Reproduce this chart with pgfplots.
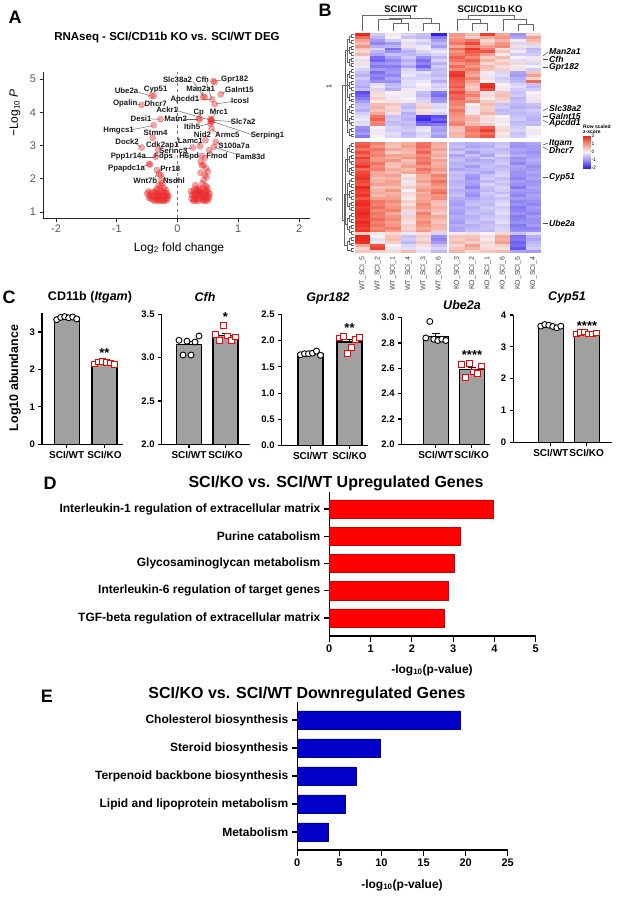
\documentclass[border=0pt]{standalone}
\usepackage{fontspec}
\setmainfont{Liberation Sans}
\usepackage{pgfplots}
\usepackage{pgfplotstable}
\pgfplotsset{compat=1.18}
\pgfplotsset{/pgf/number format/assume math mode=true}
\newcommand\fs[1]{\fontsize{#1}{#1}\selectfont}
\definecolor{volred}{RGB}{235,40,40}
\definecolor{bargray}{RGB}{160,160,160}
\definecolor{upred}{RGB}{255,0,0}
\definecolor{downblue}{RGB}{0,0,200}
\pgfplotsset{colormap={zscore}{rgb255=(50,30,240) rgb255=(155,145,245) rgb255=(245,242,248) rgb255=(245,150,130) rgb255=(235,40,30)}}
\pgfdeclareplotmark{hcell}{\pgfpathrectangle{\pgfqpoint{-7.7pt}{-1.55pt}}{\pgfqpoint{15.4pt}{3.1pt}}\pgfusepathqfill}

\tikzset{
  gl/.style={font=\bfseries\fs{7.8}, text=black!90, inner sep=0.5pt},
  ll/.style={black!60, line width=0.5pt},
  panel/.style={font=\bfseries\fs{18}},
  star/.style={font=\bfseries\fs{13}, inner sep=0pt},
}
\pgfplotsset{
  abund/.style={scale only axis, anchor=south west, xmin=0, axis lines=left,
    axis line style={-, line width=1.2pt}, tick align=outside, major tick length=3.5pt,
    tick style={line width=1.1pt, black}, yticklabel style={font=\bfseries\fs{9.5}},
    xticklabel style={font=\bfseries\fs{10}}, xticklabels={SCI/WT,SCI/KO}},
  abar/.style={ybar, bar width=25pt, fill=bargray, draw=black, line width=1.2pt,
    error bars/.cd, y dir=plus, y explicit,
    error bar style={line width=1pt, black}, error mark options={rotate=90, mark size=4pt, line width=1pt, black}},
  wt/.style={only marks, mark=*, mark size=3pt, mark options={fill=white, draw=black, line width=0.9pt}},
  ko/.style={only marks, mark=square*, mark size=2.8pt, mark options={fill=white, draw=red, line width=1pt}},
  pathway/.style={scale only axis, anchor=south west, axis lines=left,
    axis line style={-, line width=1.2pt}, tick align=outside, major tick length=5.5pt,
    tick style={line width=1.2pt, black}, yticklabel style={font=\bfseries\fs{12}},
    xticklabel style={font=\bfseries\fs{11}}, ytick={1,...,5}},
  hm/.style={scatter, only marks, mark=hcell, point meta=explicit,
    scatter/use mapped color={draw=mapped color, fill=mapped color}},
  dendro/.style={black!60, line width=0.45pt, no marks, unbounded coords=jump},
}

% Row-scaled z-scores; columns in clustered sample order
\pgfplotstableread{
y w5 w2 w1 w4 w3 w6 k3 k2 k1 k6 k5 k4
-1 2.0 -0.4 0.1 -0.3 -0.5 -2.0 1.0 0.6 1.8 0.8 -1.0 0.3
-2 1.4 -0.6 0.0 -0.5 -0.6 -1.2 0.9 0.4 0.8 1.0 -0.8 0.9
-3 0.9 -0.9 -0.4 0.1 -0.2 -0.9 1.1 1.3 0.3 0.7 0.1 0.6
-4 0.6 -1.1 -0.9 -0.2 -0.4 -0.6 1.3 1.7 0.5 1.0 -0.3 0.4
-5 1.0 -0.7 -0.6 0.2 -0.1 -0.9 0.8 1.2 0.9 1.1 0.2 -0.2
-6 0.5 -0.3 -1.3 -0.4 0.1 -0.4 1.4 1.9 1.2 0.2 -0.3 -0.6
-7 0.3 -0.6 -1.0 -0.7 -0.3 -0.1 1.0 1.6 1.6 0.5 0.1 -0.5
-8 0.6 -0.8 -0.5 -0.6 -0.5 -0.3 1.2 1.4 0.9 0.1 -0.4 -0.4
-9 0.1 -1.3 -0.8 -0.4 -1.0 -0.6 1.5 1.1 0.4 0.6 0.0 -0.1
-10 -0.2 -1.4 -1.1 -0.7 -1.3 -0.3 1.3 1.5 0.7 0.3 -0.2 0.2
-11 0.2 -1.0 -0.9 -0.5 -1.1 -0.7 1.0 1.2 0.3 0.5 0.3 -0.3
-12 -0.1 -1.2 -1.2 -0.8 -1.4 -0.4 1.4 1.0 0.6 0.2 -0.1 0.0
-13 -0.3 -0.9 -1.0 -0.3 -0.9 -0.6 1.1 1.3 0.5 0.4 0.2 -0.4
-14 -0.5 -1.3 -0.9 -0.2 -0.2 -0.5 1.8 1.0 0.1 -0.3 -0.8 0.5
-15 -0.7 -1.1 -1.1 -0.1 -0.4 -0.6 1.9 0.8 -0.1 -0.2 -0.9 0.9
-16 -0.4 -1.2 -0.8 -0.3 -0.3 -0.4 1.6 1.2 0.2 -0.4 -0.7 0.3
-17 -0.6 -1.0 -1.0 -0.2 -0.1 -0.7 1.5 0.9 0.0 -0.3 -0.6 1.4
-18 -0.6 -0.2 -0.6 -0.2 0.0 -0.3 1.4 0.6 1.9 0.0 -0.3 -0.5
-19 -0.8 -0.1 -0.5 -0.3 0.1 -0.4 1.6 0.4 2.0 0.1 -0.2 -0.6
-20 -0.5 -0.3 -0.7 -0.1 -0.1 -0.2 1.3 0.5 1.7 -0.1 -0.4 -0.4
-21 -1.6 0.3 0.0 0.1 -0.5 -1.2 1.7 1.0 0.2 0.5 -0.5 0.0
-22 -1.4 0.2 0.1 -0.1 -0.6 -1.3 1.4 1.2 0.3 0.6 -0.4 0.1
-23 -1.2 0.4 -0.1 0.0 -0.4 -1.0 1.5 0.8 0.1 0.4 -0.6 -0.1
-24 -0.9 0.1 0.2 0.1 -0.3 -0.9 1.2 1.1 0.4 0.3 -0.5 0.2
-25 -0.6 0.6 0.5 -0.5 0.3 -0.2 1.2 0.0 0.6 -0.5 -0.6 -0.5
-26 -0.5 0.7 0.3 -0.6 0.4 -0.3 1.0 0.2 0.4 -0.4 -0.7 -0.6
-27 -0.7 0.5 0.4 -0.4 0.2 -0.1 1.3 -0.1 0.5 -0.6 -0.5 -0.4
-28 -0.4 0.8 0.2 -0.7 0.3 -0.3 1.1 0.1 0.7 -0.5 -0.6 -0.5
-29 -0.2 1.3 -0.5 -0.6 -1.8 -1.6 1.0 0.6 0.2 0.0 -0.5 -0.6
-30 -0.1 1.5 -0.4 -0.7 -1.9 -1.4 0.9 0.7 0.3 0.1 -0.4 -0.7
-31 -0.3 1.1 -0.6 -0.5 -1.5 -1.7 1.1 0.5 0.1 -0.1 -0.6 -0.5
-32 -0.2 1.2 -0.5 -0.6 -1.3 -1.2 1.2 0.6 0.4 0.0 -0.5 -0.6
-33 -1.0 0.0 -0.3 -0.5 -0.2 -0.8 0.6 1.2 1.5 0.2 -0.4 0.0
-34 -1.1 0.1 -0.4 -0.4 -0.1 -0.9 0.5 1.3 1.8 0.3 -0.3 0.1
-35 -0.9 -0.1 -0.2 -0.6 -0.3 -0.7 0.7 1.1 1.4 0.1 -0.5 -0.1
-36 -1.2 0.0 -0.3 -0.5 -0.2 -0.9 0.6 1.2 1.6 0.2 -0.4 0.0
-38.3 1.5 1.2 0.6 0.8 1.3 0.8 -0.6 -0.7 -0.6 -0.5 -0.9 -0.8
-39.3 1.6 1.0 0.5 0.9 1.4 0.7 -0.5 -0.8 -0.7 -0.4 -1.0 -0.9
-40.3 1.3 1.3 0.8 0.7 1.2 0.9 -0.7 -0.6 -0.5 -0.6 -0.8 -0.9
-41.3 1.7 1.1 0.4 0.6 1.5 0.6 -0.4 -0.9 -0.6 -0.5 -0.9 -1.0
-42.3 1.4 1.2 0.9 0.8 1.1 0.8 -0.8 -0.5 -0.8 -0.3 -0.7 -0.9
-43.3 1.8 0.9 0.7 1.0 1.3 0.5 -0.6 -0.7 -0.4 -0.6 -1.0 -0.8
-44.3 1.5 1.0 1.0 0.5 1.2 0.9 -0.5 -0.8 -0.7 -0.5 -0.9 -0.7
-45.3 1.6 1.3 0.6 0.7 1.4 0.7 -0.7 -0.6 -0.6 -0.4 -1.1 -0.8
-46.3 1.9 1.1 0.5 0.9 1.0 0.8 -0.6 -0.9 -0.5 -0.6 -0.8 -1.0
-47.3 1.4 1.2 0.8 0.6 1.3 1.0 -0.8 -0.7 -0.6 -0.5 -0.9 -0.9
-48.3 1.7 0.8 0.6 0.8 1.1 0.7 -0.5 -0.6 -0.8 -0.4 -1.0 -0.8
-49.3 1.8 0.8 0.9 0.1 0.8 1.2 -0.6 -0.9 -0.5 -0.3 -1.0 -0.9
-50.3 1.9 0.6 0.7 0.3 0.7 1.0 -0.5 -1.0 -0.4 -0.5 -1.1 -0.8
-51.3 1.7 0.7 0.9 -0.1 0.9 1.3 -0.7 -0.8 -0.6 -0.4 -0.9 -1.0
-52.3 1.6 0.9 0.8 0.2 0.6 1.1 -0.6 -0.9 -0.3 -0.5 -1.0 -0.9
-53.3 2.0 0.5 0.6 0.4 0.8 0.9 -0.5 -1.1 -0.5 -0.3 -1.2 -0.8
-54.3 1.8 0.7 1.0 0.0 1.0 1.2 -0.7 -0.8 -0.6 -0.4 -0.9 -0.9
-55.3 1.7 0.8 0.7 0.3 0.7 1.4 -0.6 -0.9 -0.4 -0.6 -1.0 -1.0
-56.3 1.9 0.6 0.8 0.2 0.9 1.0 -0.5 -1.0 -0.5 -0.3 -1.1 -0.8
-57.3 1.6 0.9 0.9 0.1 0.8 1.1 -0.7 -0.8 -0.6 -0.5 -0.9 -0.9
-58.3 1.9 1.3 1.1 0.4 0.9 0.6 -0.8 -0.6 -0.5 -0.3 -1.1 -1.0
-59.3 2.0 1.2 0.9 0.2 1.1 0.5 -0.9 -0.5 -0.6 -0.2 -1.0 -1.1
-60.3 1.8 1.4 1.0 0.5 1.0 0.7 -0.7 -0.7 -0.4 -0.4 -1.2 -0.9
-61.3 1.9 1.1 1.2 0.3 0.8 0.6 -0.8 -0.6 -0.5 -0.3 -1.1 -1.0
-62.3 2.0 1.3 0.8 -0.2 1.2 0.4 -0.9 -0.5 -0.6 -0.2 -1.0 -1.1
-63.3 1.9 1.2 1.0 0.4 1.0 0.8 -0.7 -0.7 -0.5 -0.4 -1.2 -0.9
-64.3 1.8 1.4 1.1 0.3 0.9 0.6 -0.8 -0.6 -0.4 -0.3 -1.1 -1.0
-65.3 2.0 1.2 0.9 0.2 1.1 0.5 -0.9 -0.5 -0.6 -0.2 -1.0 -1.0
-66.3 1.9 1.3 1.0 0.4 1.0 0.7 -0.7 -0.7 -0.5 -0.4 -1.2 -0.9
-67.3 1.8 1.1 1.2 0.3 0.8 0.6 -0.8 -0.6 -0.5 -0.3 -1.1 -1.1
-68.3 1.9 1.3 0.9 0.5 1.0 0.4 -0.8 -0.5 -0.6 -0.3 -1.0 -1.0
-69.3 0.4 0.1 0.3 -0.1 0.2 -0.3 0.1 0.2 0.0 0.3 -0.5 -0.2
-70.3 2.0 0.0 0.5 -0.5 0.4 -1.0 0.5 0.5 0.2 0.8 -1.3 -0.7
-71.3 2.0 -0.2 0.6 -0.4 0.3 -1.1 0.4 0.6 0.1 0.7 -1.2 -0.8
-72.3 1.9 0.1 0.4 -0.6 0.5 -0.9 0.6 0.4 0.3 0.9 -1.4 -0.6
-73.3 0.8 1.6 0.0 -0.3 0.2 -0.5 0.3 0.9 0.2 0.4 -1.3 -0.5
-74.3 0.3 1.8 -0.1 -0.2 0.1 -0.3 0.5 0.7 0.3 0.2 -1.5 -0.4
-75.3 0.5 0.4 0.3 0.6 -0.2 -0.6 0.7 0.3 0.5 0.6 -0.8 -0.9
}\heatdata

\begin{document}
\begin{tikzpicture}[x=1pt,y=1pt]
\path[use as bounding box] (0,0) rectangle (623,-899);

% ---------------- panel letters and titles ----------------
\node[panel] at (15,-17) {A};
\node[panel] at (325,-10) {B};
\node[panel] at (9,-297) {C};
\node[panel] at (50,-483) {D};
\node[panel] at (47,-696) {E};
\node[font=\bfseries\fs{11.5}] at (167,-38) {RNAseq - SCI/CD11b KO vs. SCI/WT DEG};

% ---------------- A: volcano plot ----------------
\begin{axis}[at={(43pt,-218pt)}, anchor=south west, scale only axis, width=267pt, height=146.3pt,
  xmin=-2.214, xmax=2.18, ymin=0.82, ymax=5.22, axis lines=left,
  axis line style={-, line width=0.8pt, black!85}, tick align=outside, major tick length=3.5pt,
  tick style={black!85, line width=0.8pt}, xtick={-2,-1,0,1,2}, xticklabels={-2,-1,0,1,2},
  ytick={1,2,3,4,5}, ticklabel style={font=\fs{11}, text=black!65}, clip=false]
\addplot[black!55, dashed, line width=0.6pt] coordinates {(0,0.82) (0,5.22)};
\addplot[only marks, mark=*, mark size=3.1pt,
  mark options={fill=volred, fill opacity=0.42, draw=volred, draw opacity=0.5, line width=0.3pt}]
coordinates {
(0.59,4.94)(0.61,4.90)(0.71,4.54)(0.42,4.47)(0.45,4.45)(0.57,4.39)(0.61,4.24)
(0.36,3.82)(0.36,3.78)(0.54,3.80)(0.55,3.75)(0.56,3.71)(0.54,3.66)(0.56,3.77)(0.56,3.51)
(0.46,3.16)(0.37,2.98)(0.25,2.94)(0.63,3.11)(0.60,2.96)(0.52,2.86)(0.40,2.69)
(0.38,2.51)(0.43,2.41)(0.47,2.31)(0.38,2.18)(0.45,2.11)(0.43,1.96)(0.41,1.86)(0.29,1.81)
(0.46,1.79)(0.35,1.73)(0.49,1.66)(0.50,2.22)(0.48,2.05)(0.40,2.40)(0.45,2.62)
(-0.43,4.49)(-0.39,4.49)(-0.59,4.22)(-0.28,3.79)(-0.39,3.61)(-0.41,3.23)(-0.59,2.94)
(-0.32,2.88)(-0.36,2.66)(-0.47,2.44)(-0.45,2.43)(-0.34,2.26)(-0.28,2.11)(-0.30,2.14)
(-0.27,1.95)(-0.25,1.86)(-0.31,1.80)
(-0.48,1.62)(-0.44,1.58)(-0.40,1.60)(-0.36,1.63)(-0.32,1.57)(-0.28,1.60)(-0.24,1.62)(-0.20,1.58)(-0.17,1.55)
(-0.46,1.50)(-0.42,1.47)(-0.38,1.52)(-0.34,1.49)(-0.30,1.51)(-0.26,1.47)(-0.22,1.50)(-0.18,1.46)(-0.15,1.49)
(-0.44,1.40)(-0.40,1.38)(-0.36,1.42)(-0.32,1.39)(-0.28,1.41)(-0.24,1.37)(-0.20,1.40)(-0.16,1.42)
(-0.38,1.33)(-0.34,1.35)(-0.30,1.33)(-0.26,1.34)(-0.22,1.33)(-0.18,1.35)
(-0.34,1.70)(-0.29,1.68)(-0.22,1.72)(-0.27,1.78)(-0.31,1.45)(-0.35,1.56)(-0.25,1.53)(-0.19,1.66)(-0.50,1.55)(-0.47,1.43)
(0.22,1.62)(0.26,1.58)(0.30,1.60)(0.34,1.63)(0.38,1.57)(0.42,1.60)(0.46,1.62)(0.50,1.58)(0.53,1.55)
(0.24,1.50)(0.28,1.47)(0.32,1.52)(0.36,1.49)(0.40,1.51)(0.44,1.47)(0.48,1.50)(0.52,1.46)
(0.23,1.40)(0.27,1.38)(0.31,1.42)(0.35,1.39)(0.39,1.41)(0.43,1.37)(0.47,1.40)(0.51,1.42)
(0.26,1.33)(0.30,1.35)(0.34,1.33)(0.42,1.34)(0.46,1.33)(0.50,1.35)
(0.30,1.70)(0.38,1.68)(0.44,1.72)(0.49,1.74)(0.34,1.66)(0.41,1.45)(0.37,1.55)(0.29,1.53)(0.45,1.56)(0.27,1.66)
};
% leader lines
\draw[ll] (axis cs:0.25,4.94) -- (axis cs:0.42,4.49);
\draw[ll] (axis cs:0.47,4.93) -- (axis cs:0.56,4.41);
\draw[ll] (axis cs:0.72,4.96) -- (axis cs:0.61,4.94);
\draw[ll] (axis cs:0.40,4.64) -- (axis cs:0.42,4.50);
\draw[ll] (axis cs:0.80,4.64) -- (axis cs:0.72,4.55);
\draw[ll] (axis cs:0.88,4.32) -- (axis cs:0.63,4.25);
\draw[ll] (axis cs:0.33,4.37) -- (axis cs:0.55,4.39);
\draw[ll] (axis cs:-0.64,4.60) -- (axis cs:-0.45,4.50);
\draw[ll] (axis cs:-0.68,4.25) -- (axis cs:-0.61,4.23);
\draw[ll] (axis cs:-0.03,4.06) -- (axis cs:0.55,3.76);
\draw[ll] (axis cs:1.22,3.33) -- (axis cs:0.57,3.72);
\draw[ll] (axis cs:0.62,3.94) -- (axis cs:0.56,3.82);
\draw[ll] (axis cs:-0.44,3.80) -- (axis cs:-0.30,3.79);
\draw[ll] (axis cs:0.12,3.80) -- (axis cs:0.34,3.80);
\draw[ll] (axis cs:0.90,3.72) -- (axis cs:0.58,3.76);
\draw[ll] (axis cs:0.35,3.58) -- (axis cs:0.53,3.66);
\draw[ll] (axis cs:-0.76,3.47) -- (axis cs:-0.41,3.60);
\draw[ll] (axis cs:0.69,3.33) -- (axis cs:0.57,3.49);
\draw[ll] (axis cs:-0.68,3.05) -- (axis cs:-0.60,2.96);
\draw[ll] (axis cs:0.33,3.11) -- (axis cs:0.37,3.00);
\draw[ll] (axis cs:0.75,3.02) -- (axis cs:0.64,3.10);
\draw[ll] (axis cs:0.08,2.87) -- (axis cs:0.24,2.93);
\draw[ll] (axis cs:-0.57,2.66) -- (axis cs:-0.38,2.66);
\draw[ll] (axis cs:0.32,2.67) -- (axis cs:0.39,2.69);
\draw[ll] (axis cs:0.58,2.74) -- (axis cs:0.53,2.85);
\draw[ll] (axis cs:1.03,2.70) -- (axis cs:0.61,2.95);
\draw[ll] (axis cs:-0.60,2.34) -- (axis cs:-0.48,2.43);
\draw[ll] (axis cs:-0.24,2.29) -- (axis cs:-0.32,2.26);
\draw[ll] (axis cs:-0.38,1.98) -- (axis cs:-0.33,2.24);
\draw[ll] (axis cs:-0.15,1.98) -- (axis cs:-0.27,2.10);
% gene names
\node[gl] at (axis cs:0.0,4.98) {Slc38a2};
\node[gl] at (axis cs:0.41,4.98) {Cfh};
\node[gl] at (axis cs:0.94,4.98) {Gpr182};
\node[gl] at (axis cs:-0.84,4.64) {Ube2a};
\node[gl] at (axis cs:-0.36,4.67) {Cyp51};
\node[gl] at (axis cs:0.38,4.70) {Man2a1};
\node[gl] at (axis cs:1.02,4.69) {Galnt15};
\node[gl] at (axis cs:-0.86,4.27) {Opalin};
\node[gl] at (axis cs:-0.36,4.27) {Dhcr7};
\node[gl] at (axis cs:0.12,4.37) {Apcdd1};
\node[gl] at (axis cs:1.03,4.34) {Icosl};
\node[gl] at (axis cs:-0.17,4.09) {Ackr1};
\node[gl] at (axis cs:0.35,4.00) {Cp};
\node[gl] at (axis cs:0.68,4.00) {Mrc1};
\node[gl] at (axis cs:-0.60,3.80) {Desi1};
\node[gl] at (axis cs:-0.03,3.80) {Matn2};
\node[gl] at (axis cs:1.08,3.71) {Slc7a2};
\node[gl] at (axis cs:0.24,3.56) {Itih5};
\node[gl] at (axis cs:-0.97,3.44) {Hmgcs1};
\node[gl] at (axis cs:-0.36,3.38) {Stmn4};
\node[gl] at (axis cs:0.41,3.31) {Nid2};
\node[gl] at (axis cs:0.82,3.31) {Armc5};
\node[gl] at (axis cs:1.48,3.31) {Serping1};
\node[gl] at (axis cs:-0.83,3.10) {Dock2};
\node[gl] at (axis cs:-0.25,3.01) {Cdk2ap1};
\node[gl] at (axis cs:0.21,3.14) {Lamc1};
\node[gl] at (axis cs:0.93,2.99) {S100a7a};
\node[gl] at (axis cs:-0.07,2.84) {Serinc3};
\node[gl] at (axis cs:-0.81,2.66) {Ppp1r14a};
\node[gl] at (axis cs:-0.23,2.66) {Fdps};
\node[gl] at (axis cs:0.19,2.66) {H6pd};
\node[gl] at (axis cs:0.65,2.69) {Fmod};
\node[gl] at (axis cs:1.20,2.66) {Fam83d};
\node[gl] at (axis cs:-0.84,2.31) {Ppapdc1a};
\node[gl] at (axis cs:-0.12,2.31) {Prr18};
\node[gl] at (axis cs:-0.53,1.93) {Wnt7b};
\node[gl] at (axis cs:-0.06,1.93) {Nsdhl};
\end{axis}
\node[font=\fs{12}, rotate=90] at (15,-113) {−Log\textsubscript{10} \textit{P}};
\node[font=\fs{12}] at (179,-248) {Log\textsubscript{2} fold change};

% ---------------- B: heatmap ----------------
\node[font=\bfseries\fs{9.5}] at (401,-9) {SCI/WT};
\node[font=\bfseries\fs{9.5}] at (490,-9) {SCI/CD11b KO};
\begin{axis}[at={(355pt,-253pt)}, anchor=south west, scale only axis, width=186pt, height=220pt,
  xmin=0.5, xmax=12.7, ymin=-75.8, ymax=-0.5, axis line style={draw=none},
  colormap name=zscore, point meta min=-2, point meta max=2,
  ytick=\empty, xtick={1,2,3,4,5,6,7.2,8.2,9.2,10.2,11.2,12.2},
  xticklabels={WT\_SCI\_5,WT\_SCI\_2,WT\_SCI\_1,WT\_SCI\_4,WT\_SCI\_3,WT\_SCI\_6,
    KO\_SCI\_3,KO\_SCI\_2,KO\_SCI\_1,KO\_SCI\_6,KO\_SCI\_5,KO\_SCI\_4},
  xticklabel style={rotate=90, anchor=east, font=\fs{7}, text=black!75},
  major tick length=0pt, clip=false]
\addplot[hm] table[x expr=1, y=y, meta=w5] {\heatdata};
\addplot[hm] table[x expr=2, y=y, meta=w2] {\heatdata};
\addplot[hm] table[x expr=3, y=y, meta=w1] {\heatdata};
\addplot[hm] table[x expr=4, y=y, meta=w4] {\heatdata};
\addplot[hm] table[x expr=5, y=y, meta=w3] {\heatdata};
\addplot[hm] table[x expr=6, y=y, meta=w6] {\heatdata};
\addplot[hm] table[x expr=7.2, y=y, meta=k3] {\heatdata};
\addplot[hm] table[x expr=8.2, y=y, meta=k2] {\heatdata};
\addplot[hm] table[x expr=9.2, y=y, meta=k1] {\heatdata};
\addplot[hm] table[x expr=10.2, y=y, meta=k6] {\heatdata};
\addplot[hm] table[x expr=11.2, y=y, meta=k5] {\heatdata};
\addplot[hm] table[x expr=12.2, y=y, meta=k4] {\heatdata};
% sample dendrogram
\addplot[dendro] coordinates {
(3,0.3)(3,2.8)(4,2.8)(4,0.3) (nan,nan)
(5,0.3)(5,3.0)(6,3.0)(6,0.3) (nan,nan)
(2,0.3)(2,4.2)(3.5,4.2)(3.5,2.8) (nan,nan)
(2.75,4.2)(2.75,4.5)(5.5,4.5)(5.5,3.0) (nan,nan)
(1,0.3)(1,5.66)(4.125,5.66)(4.125,4.5) (nan,nan)
(8.2,0.3)(8.2,2.8)(9.2,2.8)(9.2,0.3) (nan,nan)
(7.2,0.3)(7.2,4.2)(8.7,4.2)(8.7,2.8) (nan,nan)
(11.2,0.3)(11.2,2.6)(12.2,2.6)(12.2,0.3) (nan,nan)
(10.2,0.3)(10.2,4.2)(11.7,4.2)(11.7,2.6) (nan,nan)
(7.95,4.2)(7.95,5.66)(10.95,5.66)(10.95,4.2)
};
% gene dendrogram, cluster 1 leaves
\addplot[dendro] coordinates {
(0.42,-1)(0.28,-1)(0.28,-2)(0.42,-2) (nan,nan)
(0.42,-3)(0.28,-3)(0.28,-4)(0.42,-4) (nan,nan)
(0.42,-5)(0.28,-5)(0.28,-6)(0.42,-6) (nan,nan)
(0.42,-7)(0.28,-7)(0.28,-8)(0.42,-8) (nan,nan)
(0.42,-9)(0.28,-9)(0.28,-10)(0.42,-10) (nan,nan)
(0.42,-11)(0.28,-11)(0.28,-12)(0.42,-12) (nan,nan)
(0.42,-13)(0.28,-13)(0.28,-14)(0.42,-14) (nan,nan)
(0.42,-15)(0.28,-15)(0.28,-16)(0.42,-16) (nan,nan)
(0.42,-17)(0.28,-17)(0.28,-18)(0.42,-18) (nan,nan)
(0.42,-19)(0.28,-19)(0.28,-20)(0.42,-20) (nan,nan)
(0.42,-21)(0.28,-21)(0.28,-22)(0.42,-22) (nan,nan)
(0.42,-23)(0.28,-23)(0.28,-24)(0.42,-24) (nan,nan)
(0.42,-25)(0.28,-25)(0.28,-26)(0.42,-26) (nan,nan)
(0.42,-27)(0.28,-27)(0.28,-28)(0.42,-28) (nan,nan)
(0.42,-29)(0.28,-29)(0.28,-30)(0.42,-30) (nan,nan)
(0.42,-31)(0.28,-31)(0.28,-32)(0.42,-32) (nan,nan)
(0.42,-33)(0.28,-33)(0.28,-34)(0.42,-34) (nan,nan)
(0.42,-35)(0.28,-35)(0.28,-36)(0.42,-36)
};
% cluster 1 upper levels
\addplot[dendro] coordinates {
(0.28,-1.5)(0.14,-1.5)(0.14,-3.5)(0.28,-3.5) (nan,nan)
(0.28,-5.5)(0.14,-5.5)(0.14,-7.5)(0.28,-7.5) (nan,nan)
(0.28,-9.5)(0.14,-9.5)(0.14,-11.5)(0.28,-11.5) (nan,nan)
(0.28,-13.5)(0.14,-13.5)(0.14,-15.5)(0.28,-15.5) (nan,nan)
(0.28,-17.5)(0.14,-17.5)(0.14,-19.5)(0.28,-19.5) (nan,nan)
(0.28,-21.5)(0.14,-21.5)(0.14,-23.5)(0.28,-23.5) (nan,nan)
(0.28,-25.5)(0.14,-25.5)(0.14,-27.5)(0.28,-27.5) (nan,nan)
(0.28,-29.5)(0.14,-29.5)(0.14,-31.5)(0.28,-31.5) (nan,nan)
(0.28,-33.5)(0.14,-33.5)(0.14,-35.5)(0.28,-35.5) (nan,nan)
(0.14,-2.5)(0,-2.5)(0,-10.5)(0.14,-10.5) (nan,nan) (0.14,-6.5)(0,-6.5) (nan,nan)
(0.14,-14.5)(0,-14.5)(0,-22.5)(0.14,-22.5) (nan,nan) (0.14,-18.5)(0,-18.5) (nan,nan)
(0.14,-26.5)(0,-26.5)(0,-34.5)(0.14,-34.5) (nan,nan) (0.14,-30.5)(0,-30.5) (nan,nan)
(0,-6.5)(-0.12,-6.5)(-0.12,-30.5)(0,-30.5) (nan,nan) (0,-18.5)(-0.12,-18.5)
};
% cluster 2 leaves
\addplot[dendro] coordinates {
(0.42,-38.3)(0.28,-38.3)(0.28,-39.3)(0.42,-39.3) (nan,nan)
(0.42,-40.3)(0.28,-40.3)(0.28,-41.3)(0.42,-41.3) (nan,nan)
(0.42,-42.3)(0.28,-42.3)(0.28,-43.3)(0.42,-43.3) (nan,nan)
(0.42,-44.3)(0.28,-44.3)(0.28,-45.3)(0.42,-45.3) (nan,nan)
(0.42,-46.3)(0.28,-46.3)(0.28,-47.3)(0.42,-47.3) (nan,nan)
(0.42,-48.3)(0.28,-48.3)(0.28,-49.3)(0.42,-49.3) (nan,nan)
(0.42,-50.3)(0.28,-50.3)(0.28,-51.3)(0.42,-51.3) (nan,nan)
(0.42,-52.3)(0.28,-52.3)(0.28,-53.3)(0.42,-53.3) (nan,nan)
(0.42,-54.3)(0.28,-54.3)(0.28,-55.3)(0.42,-55.3) (nan,nan)
(0.42,-56.3)(0.28,-56.3)(0.28,-57.3)(0.42,-57.3) (nan,nan)
(0.42,-58.3)(0.28,-58.3)(0.28,-59.3)(0.42,-59.3) (nan,nan)
(0.42,-60.3)(0.28,-60.3)(0.28,-61.3)(0.42,-61.3) (nan,nan)
(0.42,-62.3)(0.28,-62.3)(0.28,-63.3)(0.42,-63.3) (nan,nan)
(0.42,-64.3)(0.28,-64.3)(0.28,-65.3)(0.42,-65.3) (nan,nan)
(0.42,-66.3)(0.28,-66.3)(0.28,-67.3)(0.42,-67.3) (nan,nan)
(0.42,-68.3)(0.28,-68.3)(0.28,-69.3)(0.42,-69.3) (nan,nan)
(0.42,-70.3)(0.28,-70.3)(0.28,-71.3)(0.42,-71.3) (nan,nan)
(0.42,-72.3)(0.28,-72.3)(0.28,-73.3)(0.42,-73.3) (nan,nan)
(0.42,-74.3)(0.28,-74.3)(0.28,-75.3)(0.42,-75.3)
};
% cluster 2 upper levels and root
\addplot[dendro] coordinates {
(0.28,-38.8)(0.14,-38.8)(0.14,-40.8)(0.28,-40.8) (nan,nan)
(0.28,-42.8)(0.14,-42.8)(0.14,-44.8)(0.28,-44.8) (nan,nan)
(0.28,-46.8)(0.14,-46.8)(0.14,-48.8)(0.28,-48.8) (nan,nan)
(0.28,-50.8)(0.14,-50.8)(0.14,-52.8)(0.28,-52.8) (nan,nan)
(0.28,-54.8)(0.14,-54.8)(0.14,-56.8)(0.28,-56.8) (nan,nan)
(0.28,-58.8)(0.14,-58.8)(0.14,-60.8)(0.28,-60.8) (nan,nan)
(0.28,-62.8)(0.14,-62.8)(0.14,-64.8)(0.28,-64.8) (nan,nan)
(0.28,-66.8)(0.14,-66.8)(0.14,-68.8)(0.28,-68.8) (nan,nan)
(0.28,-70.8)(0.14,-70.8)(0.14,-72.8)(0.28,-72.8) (nan,nan)
(0.14,-39.8)(0,-39.8)(0,-47.8)(0.14,-47.8) (nan,nan) (0.14,-43.8)(0,-43.8) (nan,nan)
(0.14,-51.8)(0,-51.8)(0,-59.8)(0.14,-59.8) (nan,nan) (0.14,-55.8)(0,-55.8) (nan,nan)
(0.14,-63.8)(0,-63.8)(0,-67.8)(0.14,-67.8) (nan,nan)
(0.14,-71.8)(0,-71.8)(0,-74.8)(0.28,-74.8) (nan,nan)
(0,-43.8)(-0.12,-43.8)(-0.12,-65.8)(0,-65.8) (nan,nan) (0,-55.8)(-0.12,-55.8) (nan,nan)
(-0.12,-55.8)(-0.2,-55.8)(-0.2,-73.3)(0,-73.3) (nan,nan)
(-0.12,-18.5)(-0.37,-18.5)(-0.37,-64.5)(-0.2,-64.5)
};
\end{axis}
\node[font=\fs{7}, rotate=90] at (329,-87) {1};
\node[font=\fs{7}, rotate=90] at (329,-200) {2};
% gene call-outs beside the heatmap
\begin{scope}[black!70, line width=0.5pt]
\draw (543,-56) -- (548,-52);  \draw (543,-59) -- (548,-59);  \draw (543,-67) -- (548,-67);
\draw (543,-111) -- (548,-108); \draw (543,-116) -- (548,-116); \draw (543,-120) -- (548,-123);
\draw (543,-145) -- (548,-143); \draw (543,-147) -- (548,-150); \draw (543,-177) -- (548,-177);
\draw (543,-223) -- (548,-223);
\end{scope}
\begin{scope}[every node/.style={anchor=west, font=\bfseries\itshape\fs{8.6}, inner sep=0pt}]
\node at (549,-52) {Man2a1};  \node at (549,-59.5) {Cfh};   \node at (549,-67) {Gpr182};
\node at (549,-108) {Slc38a2}; \node at (549,-116) {Galnt15}; \node at (549,-123.5) {Apcdd1};
\node at (549,-143) {Itgam};  \node at (549,-150.5) {Dhcr7}; \node at (549,-177) {Cyp51};
\node at (549,-223) {Ube2a};
\end{scope}
% colour key
\node[anchor=south west, align=left, font=\bfseries\fs{5}, inner sep=0pt] at (583,-133.5) {Row scaled\\z-score};
\begin{axis}[at={(583pt,-168pt)}, anchor=south west, scale only axis, width=7pt, height=32pt,
  xmin=0, xmax=1, ymin=-2, ymax=2, colormap name=zscore, point meta min=-2, point meta max=2,
  axis line style={draw=none}, xtick=\empty, ytick={-2,-1,0,1,2}, ytick pos=right,
  yticklabel pos=right, yticklabel style={font=\fs{5}, xshift=-2pt},
  major tick length=1.5pt, tick style={black!60, line width=0.4pt}]
\addplot[surf, shader=interp, mesh/cols=2, point meta=y] coordinates {
(0,-2)(1,-2) (0,-1.5)(1,-1.5) (0,-1)(1,-1) (0,-0.5)(1,-0.5) (0,0)(1,0)
(0,0.5)(1,0.5) (0,1)(1,1) (0,1.5)(1,1.5) (0,2)(1,2)};
\end{axis}

% ---------------- C: abundance bar charts ----------------
\node[font=\bfseries\fs{12.5}] at (90,-297) {CD11b (\textit{Itgam})};
\node[font=\bfseries\itshape\fs{12.5}] at (205,-297) {Cfh};
\node[font=\bfseries\itshape\fs{12.5}] at (328,-298) {Gpr182};
\node[font=\bfseries\itshape\fs{12.5}] at (462,-305) {Ube2a};
\node[font=\bfseries\itshape\fs{12.5}] at (567,-297) {Cyp51};
\node[font=\bfseries\fs{12.5}, rotate=90] at (15,-378) {Log10 abundance};

\begin{axis}[abund, at={(42pt,-444.3pt)}, width=81pt, height=131pt, xmax=81, ymin=0, ymax=3.5,
  ytick={0,1,2,3}, xtick={24.7,62.5}]
\addplot[abar] coordinates {(24.7,3.375) +- (0,0.012) (62.5,2.177) +- (0,0.012)};
\addplot[wt] coordinates {(14.7,3.33)(18.7,3.39)(22.7,3.41)(26.7,3.38)(30.7,3.40)(34.7,3.35)};
\addplot[ko] coordinates {(52.5,2.15)(56.5,2.20)(60.5,2.22)(64.5,2.18)(68.5,2.17)(72.5,2.14)};
\end{axis}
\node[star] at (104.5,-353) {**};

\begin{axis}[abund, at={(161.7pt,-444.3pt)}, width=88pt, height=130pt, xmax=88, ymin=2, ymax=3.5,
  ytick={2,2.5,3,3.5}, yticklabel style={/pgf/number format/.cd, fixed, fixed zerofill, precision=1},
  xtick={27.3,63.8}]
\addplot[abar] coordinates {(27.3,3.147) +- (0,0.04) (63.8,3.255) +- (0,0.025)};
\addplot[wt] coordinates {(17.3,3.20)(21.3,3.03)(25.3,3.19)(29.3,3.03)(33.3,3.18)(37.3,3.25)};
\addplot[ko] coordinates {(53.8,3.27)(57.8,3.20)(61.8,3.37)(65.8,3.25)(69.8,3.20)(73.8,3.24)};
\end{axis}
\node[star] at (225.5,-317) {*};

\begin{axis}[abund, at={(281.7pt,-445.7pt)}, width=86pt, height=131.4pt, xmax=86, ymin=0, ymax=2.5,
  ytick={0,0.5,1,1.5,2,2.5}, yticklabel style={/pgf/number format/.cd, fixed, fixed zerofill, precision=1},
  xtick={28.8,67.8}]
\addplot[abar] coordinates {(28.8,1.752) +- (0,0.012) (67.8,1.972) +- (0,0.05)};
\addplot[wt] coordinates {(18.8,1.73)(22.8,1.75)(26.8,1.75)(30.8,1.76)(34.8,1.80)(38.8,1.72)};
\addplot[ko] coordinates {(57.8,2.05)(61.8,2.08)(65.8,1.75)(69.8,1.87)(73.8,2.02)(77.8,2.06)};
\end{axis}
\node[star] at (349.5,-328) {**};

\begin{axis}[abund, at={(401.7pt,-444.3pt)}, width=88pt, height=126.6pt, xmax=88, ymin=2, ymax=3,
  ytick={2,2.2,2.4,2.6,2.8,3}, yticklabel style={/pgf/number format/.cd, fixed, fixed zerofill, precision=1},
  xtick={34.1,70}]
\addplot[abar] coordinates {(34.1,2.852) +- (0,0.025) (70,2.592) +- (0,0.018)};
\addplot[wt] coordinates {(24.1,2.84)(28.1,2.97)(32.1,2.83)(36.1,2.82)(40.1,2.83)(44.1,2.82)};
\addplot[ko] coordinates {(60,2.63)(64,2.53)(68,2.64)(72,2.57)(76,2.56)(80,2.62)};
\end{axis}
\node[star] at (472,-355) {****};

\begin{axis}[abund, at={(513.3pt,-442.3pt)}, width=98.4pt, height=127.3pt, xmax=98.4, ymin=0, ymax=4,
  ytick={0,1,2,3,4}, xtick={37.5,73.4}]
\addplot[abar] coordinates {(37.5,3.653) +- (0,0.015) (73.4,3.427) +- (0,0.015)};
\addplot[wt] coordinates {(27.5,3.65)(31.5,3.70)(35.5,3.68)(39.5,3.64)(43.5,3.60)(47.5,3.65)};
\addplot[ko] coordinates {(63.4,3.40)(67.4,3.45)(71.4,3.47)(75.4,3.40)(79.4,3.40)(83.4,3.44)};
\end{axis}
\node[star] at (587,-326) {****};

% ---------------- D: upregulated pathways ----------------
\node[font=\bfseries\fs{16}] at (336,-483) {SCI/KO vs. SCI/WT Upregulated Genes};
\begin{axis}[pathway, at={(329.3pt,-636pt)}, width=206.4pt, height=144pt, xmin=0, xmax=5,
  ymin=0.34, ymax=5.624, xtick={0,1,2,3,4,5},
  yticklabels={TGF-beta regulation of extracellular matrix, Interleukin-6 regulation of target genes,
    Glycosaminoglycan metabolism, Purine catabolism, Interleukin-1 regulation of extracellular matrix}]
\addplot[xbar, bar width=18.3pt, fill=upred, draw=upred!80!black, line width=0.5pt]
  coordinates {(2.78,1) (2.87,2) (3.02,3) (3.17,4) (3.96,5)};
\end{axis}
\node[font=\bfseries\fs{12}] at (432,-670) {-log\textsubscript{10}(p-value)};

% ---------------- E: downregulated pathways ----------------
\node[font=\bfseries\fs{16}] at (307,-694) {SCI/KO vs. SCI/WT Downregulated Genes};
\begin{axis}[pathway, at={(297.3pt,-850pt)}, width=210.4pt, height=148.3pt, xmin=0, xmax=25,
  ymin=0.357, ymax=5.65, xtick={0,5,10,15,20,25},
  yticklabels={Metabolism, Lipid and lipoprotein metabolism, Terpenoid backbone biosynthesis,
    Steroid biosynthesis, Cholesterol biosynthesis}]
\addplot[xbar, bar width=18.3pt, fill=downblue, draw=downblue!70!black, line width=0.5pt]
  coordinates {(3.68,1) (5.74,2) (6.97,3) (9.9,4) (19.37,5)};
\end{axis}
\node[font=\bfseries\fs{12}] at (402,-885) {-log\textsubscript{10}(p-value)};

\end{tikzpicture}
\end{document}
